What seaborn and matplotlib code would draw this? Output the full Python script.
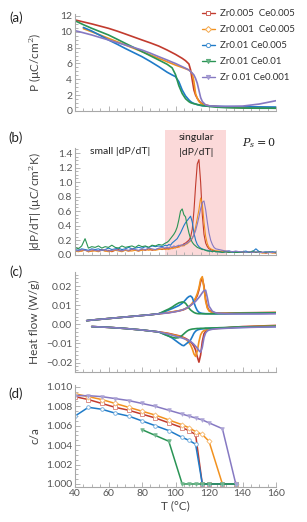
import numpy as np
import matplotlib
matplotlib.use("Agg")
import matplotlib.pyplot as plt
import seaborn as sns
from matplotlib.lines import Line2D
from matplotlib.patches import Rectangle
from matplotlib.ticker import MultipleLocator, AutoMinorLocator
from matplotlib.colors import to_rgb

sns.set_style("ticks")
plt.rcParams['font.family'] = ['Lato', 'DejaVu Sans']
plt.rcParams['mathtext.fontset'] = 'dejavuserif'

nan = np.nan
labels = ["Zr0.005  Ce0.005", "Zr0.001  Ce0.005", "Zr0.01 Ce0.005", "Zr0.01 Ce0.01", "Zr 0.01 Ce0.001"]
colors = ["#C23B2E", "#F2921F", "#1F7BC8", "#2A9455", "#8679C2"]
markers = ["s", "D", "o", "v", "v"]

# ---------------- panel (a): polarization ----------------
TA = [40, 45, 50, 55, 60, 65, 70, 75, 80, 85, 90, 95, 98, 100, 102, 104, 106, 108, 109, 110,
      111, 112, 113, 114, 115, 116, 118, 120, 125, 130, 140, 150, 160]
P_red = [11.5, 11.25, 11.0, 10.72, 10.44, 10.1, 9.73, 9.35, 8.97, 8.6, 8.2, 7.7, 7.37, 7.15, 6.9, 6.65, 6.35, 5.94, 5.2, 3.9,
         2.65, 2.0, 1.6, 1.3, 1.05, 0.92, 0.76, 0.66, 0.55, 0.48, 0.42, 0.38, 0.35]
P_orange = [nan, 10.4, 10.0, 9.6, 9.18, 8.76, 8.34, 7.92, 7.5, 7.08, 6.65, 6.22, 5.97, 5.8, 5.65, 5.5, 5.34, 5.18, 5.0, 4.76,
            3.7, 2.2, 1.6, 1.2, 1.0, 0.86, 0.72, 0.64, 0.55, 0.5, 0.45, 0.42, 0.4]
P_blue = [nan, 10.55, 10.1, 9.55, 8.97, 8.45, 7.9, 7.38, 6.86, 6.25, 5.6, 4.9, 4.55, 4.34, 3.7, 2.65, 1.9, 1.4, 1.2, 1.05,
          0.95, 0.88, 0.8, 0.75, 0.7, 0.65, 0.62, 0.6, 0.58, 0.56, 0.54, 0.52, 0.5]
P_green = [11.4, 10.9, 10.44, 10.02, 9.6, 9.08, 8.55, 8.03, 7.5, 6.97, 6.44, 5.9, 5.45, 4.6, 3.2, 2.2, 1.55, 1.18, 1.05, 0.98,
           0.92, 0.88, 0.82, 0.78, 0.74, 0.7, 0.64, 0.58, 0.48, 0.42, 0.37, 0.35, 0.35]
P_purple = [10.15, 9.88, 9.6, 9.28, 8.97, 8.65, 8.34, 8.02, 7.7, 7.3, 6.86, 6.44, 6.17, 6.0, 5.8, 5.6, 5.4, 5.18, 4.98, 4.78,
            4.55, 4.1, 3.5, 2.6, 1.7, 1.2, 0.76, 0.66, 0.6, 0.58, 0.62, 0.88, 1.3]

# ---------------- panel (b): |dP/dT| ----------------
TB = list(range(40, 95, 2)) + list(range(95, 125)) + list(range(126, 161, 2))
D_red = [0.04, 0.06, 0.05, 0.07, 0.04, 0.05, 0.06, 0.05, 0.07, 0.05, 0.06, 0.04, 0.06, 0.07, 0.05, 0.06, 0.05, 0.07, 0.06, 0.05,
         0.07, 0.06, 0.08, 0.06, 0.07, 0.08, 0.07, 0.09,
         0.08, 0.09, 0.08, 0.10, 0.09, 0.11, 0.10, 0.12, 0.13, 0.12, 0.15, 0.16, 0.18, 0.20, 0.24, 0.35, 0.60, 0.95, 1.25, 1.31,
         1.00, 0.55, 0.28, 0.16, 0.11, 0.08, 0.07, 0.06, 0.05, 0.05,
         0.04, 0.05, 0.04, 0.03, 0.04, 0.03, 0.04, 0.03, 0.03, 0.04, 0.03, 0.03, 0.04, 0.03, 0.02, 0.03, 0.03, 0.02]
D_orange = [0.05, 0.04, 0.05, 0.06, 0.04, 0.05, 0.05, 0.04, 0.06, 0.05, 0.04, 0.05, 0.06, 0.05, 0.04, 0.06, 0.05, 0.05, 0.06, 0.05,
            0.06, 0.07, 0.06, 0.07, 0.06, 0.07, 0.08, 0.07,
            0.08, 0.07, 0.09, 0.08, 0.10, 0.09, 0.11, 0.10, 0.12, 0.13, 0.12, 0.14, 0.15, 0.17, 0.19, 0.22, 0.28, 0.38, 0.50, 0.62,
            0.78, 0.70, 0.45, 0.25, 0.15, 0.10, 0.08, 0.07, 0.06, 0.05,
            0.05, 0.04, 0.05, 0.04, 0.03, 0.04, 0.03, 0.04, 0.03, 0.03, 0.04, 0.03, 0.03, 0.02, 0.03, 0.03, 0.02, 0.03]
D_blue = [0.07, 0.06, 0.08, 0.07, 0.06, 0.08, 0.07, 0.08, 0.06, 0.07, 0.09, 0.07, 0.08, 0.09, 0.07, 0.08, 0.10, 0.08, 0.09, 0.10,
          0.09, 0.11, 0.10, 0.12, 0.11, 0.12, 0.11, 0.13,
          0.12, 0.14, 0.13, 0.16, 0.18, 0.20, 0.22, 0.26, 0.30, 0.35, 0.40, 0.44, 0.47, 0.50, 0.53, 0.45, 0.30, 0.20, 0.14, 0.11,
          0.09, 0.08, 0.07, 0.06, 0.06, 0.05, 0.05, 0.04, 0.05, 0.04,
          0.04, 0.03, 0.04, 0.05, 0.03, 0.04, 0.03, 0.04, 0.05, 0.03, 0.04, 0.08, 0.04, 0.03, 0.04, 0.03, 0.04, 0.03]
D_green = [0.10, 0.08, 0.12, 0.22, 0.09, 0.11, 0.10, 0.12, 0.09, 0.11, 0.10, 0.13, 0.10, 0.09, 0.12, 0.10, 0.11, 0.12, 0.10, 0.13,
           0.11, 0.12, 0.10, 0.13, 0.12, 0.14, 0.13, 0.16,
           0.17, 0.19, 0.22, 0.25, 0.28, 0.32, 0.38, 0.48, 0.60, 0.63, 0.55, 0.52, 0.40, 0.30, 0.22, 0.17, 0.14, 0.12, 0.10, 0.09,
           0.08, 0.07, 0.07, 0.06, 0.05, 0.05, 0.05, 0.04, 0.05, 0.04,
           0.04, 0.03, 0.04, 0.03, 0.04, 0.03, 0.03, 0.04, 0.03, 0.03, 0.05, 0.03, 0.04, 0.03, 0.03, 0.04, 0.03, 0.03]
D_purple = [0.06, 0.05, 0.07, 0.06, 0.05, 0.07, 0.06, 0.05, 0.06, 0.07, 0.05, 0.06, 0.07, 0.06, 0.05, 0.07, 0.06, 0.08, 0.07, 0.06,
            0.08, 0.07, 0.09, 0.08, 0.07, 0.09, 0.10, 0.09,
            0.10, 0.09, 0.11, 0.10, 0.12, 0.11, 0.12, 0.13, 0.12, 0.14, 0.13, 0.15, 0.16, 0.18, 0.20, 0.23, 0.27, 0.33, 0.42, 0.52,
            0.63, 0.72, 0.74, 0.62, 0.45, 0.30, 0.20, 0.14, 0.10, 0.08,
            0.07, 0.06, 0.05, 0.05, 0.04, 0.05, 0.04, 0.04, 0.03, 0.04, 0.03, 0.04, 0.03, 0.03, 0.04, 0.03, 0.03, 0.04]
singular_T = [94, 130]
singular_top = 1.72

# ---------------- panel (c): heat flow ----------------
TC = [47, 50, 55, 60, 65, 70, 75, 80, 85, 90, 94, 96, 98, 100, 102, 104, 105, 106, 107, 108, 109, 110, 111, 112, 113,
      114, 115, 116, 117, 118, 119, 120, 122, 124, 126, 130, 135, 140, 150, 160]
up_base = [0.0019, 0.0022, 0.0026, 0.0030, 0.0034, 0.0038, 0.0042, 0.0046, 0.0050, 0.0055]
dn_base = [nan, -0.0012, -0.0014, -0.0016, -0.0019, -0.0022, -0.0026, -0.0030, -0.0035, -0.0040]
H_up_red = up_base + [0.0059, 0.0061, 0.0064, 0.0067, 0.0070, 0.0074, 0.0077, 0.0081, 0.0086, 0.0092, 0.0099, 0.0108, 0.0119,
                      0.0134, 0.0150, 0.0180, 0.0222, 0.0240, 0.0200, 0.0130, 0.0090, 0.0073, 0.0063, 0.0059, 0.0058, 0.0058,
                      0.0059, 0.0060, 0.0061, 0.0062]
H_up_orange = up_base + [0.0060, 0.0062, 0.0065, 0.0068, 0.0071, 0.0075, 0.0078, 0.0082, 0.0087, 0.0093, 0.0100, 0.0110, 0.0122,
                         0.0138, 0.0160, 0.0190, 0.0235, 0.0249, 0.0190, 0.0120, 0.0085, 0.0070, 0.0061, 0.0058, 0.0057, 0.0057,
                         0.0058, 0.0059, 0.0060, 0.0061]
H_up_blue = up_base + [0.0068, 0.0075, 0.0082, 0.0090, 0.0098, 0.0110, 0.0118, 0.0128, 0.0138, 0.0145, 0.0148, 0.0140, 0.0115,
                       0.0090, 0.0072, 0.0063, 0.0059, 0.0057, 0.0056, 0.0055, 0.0055, 0.0055, 0.0055, 0.0055, 0.0055, 0.0055,
                       0.0056, 0.0056, 0.0057, 0.0058]
H_up_green = up_base + [0.0072, 0.0080, 0.0090, 0.0102, 0.0112, 0.0117, 0.0115, 0.0110, 0.0098, 0.0085, 0.0075, 0.0068, 0.0062,
                        0.0058, 0.0056, 0.0055, 0.0055, 0.0055, 0.0055, 0.0055, 0.0055, 0.0055, 0.0055, 0.0055, 0.0056, 0.0056,
                        0.0057, 0.0058, 0.0059, 0.0060]
H_up_purple = up_base + [0.0058, 0.0060, 0.0063, 0.0066, 0.0070, 0.0075, 0.0078, 0.0082, 0.0087, 0.0093, 0.0099, 0.0105, 0.0112,
                         0.0120, 0.0130, 0.0140, 0.0152, 0.0165, 0.0176, 0.0178, 0.0140, 0.0095, 0.0068, 0.0060, 0.0057, 0.0055,
                         0.0054, 0.0054, 0.0054, 0.0055]
H_dn_red = dn_base + [-0.0045, -0.0048, -0.0052, -0.0056, -0.0060, -0.0066, -0.0070, -0.0074, -0.0079, -0.0085, -0.0092, -0.0102,
                      -0.0115, -0.0135, -0.0170, -0.0198, -0.0160, -0.0090, -0.0050, -0.0036, -0.0030, -0.0027, -0.0024, -0.0022,
                      -0.0020, -0.0018, -0.0015, -0.0012, -0.0009, -0.0006]
H_dn_orange = dn_base + [-0.0046, -0.0050, -0.0054, -0.0058, -0.0062, -0.0068, -0.0072, -0.0078, -0.0085, -0.0095, -0.0108, -0.0128,
                         -0.0155, -0.0168, -0.0140, -0.0090, -0.0055, -0.0040, -0.0033, -0.0030, -0.0028, -0.0026, -0.0024,
                         -0.0022, -0.0021, -0.0019, -0.0016, -0.0014, -0.0011, -0.0008]
H_dn_blue = dn_base + [-0.0055, -0.0062, -0.0072, -0.0085, -0.0098, -0.0110, -0.0112, -0.0105, -0.0098, -0.0092, -0.0082, -0.0065,
                       -0.0047, -0.0036, -0.0030, -0.0027, -0.0025, -0.0024, -0.0023, -0.0022, -0.0022, -0.0021, -0.0021, -0.0020,
                       -0.0020, -0.0019, -0.0017, -0.0016, -0.0014, -0.0012]
H_dn_green = dn_base + [-0.0055, -0.0062, -0.0068, -0.0072, -0.0070, -0.0058, -0.0050, -0.0042, -0.0035, -0.0030, -0.0027, -0.0025,
                        -0.0024, -0.0023, -0.0022, -0.0022, -0.0021, -0.0021, -0.0021, -0.0020, -0.0020, -0.0020, -0.0019,
                        -0.0019, -0.0018, -0.0017, -0.0015, -0.0014, -0.0012, -0.0010]
H_dn_purple = dn_base + [-0.0048, -0.0052, -0.0057, -0.0062, -0.0067, -0.0072, -0.0075, -0.0078, -0.0081, -0.0085, -0.0090, -0.0097,
                         -0.0105, -0.0115, -0.0125, -0.0138, -0.0146, -0.0120, -0.0070, -0.0045, -0.0035, -0.0030, -0.0026,
                         -0.0024, -0.0023, -0.0021, -0.0019, -0.0017, -0.0015, -0.0013]

# ---------------- panel (d): c/a ----------------
TD = [40, 48, 56, 64, 72, 80, 88, 96, 104, 108, 112, 116, 120, 128, 136]
CA_red = [1.0090, 1.0087, 1.0083, 1.0079, 1.0076, 1.0072, 1.0068, 1.0063, 1.0058, 1.0055, 1.0051, 1.0000, 1.0000, 1.0000, 1.0000]
CA_orange = [1.0093, 1.0090, 1.0087, 1.0083, 1.0079, 1.0075, 1.0071, 1.0066, 1.0061, 1.0058, 1.0054, 1.0051, 1.0044, 1.0000, 1.0000]
CA_blue = [1.0070, 1.0079, 1.0077, 1.0073, 1.0070, 1.0065, 1.0060, 1.0055, 1.0048, 1.0045, 1.0041, 1.0000, 1.0000, 1.0000, 1.0000]
CA_green = [nan, nan, nan, nan, nan, 1.0056, 1.0050, 1.0044, 1.0000, 1.0000, 1.0000, 1.0000, 1.0000, 1.0000, 1.0000]
CA_purple = [1.0091, 1.0091, 1.0090, 1.0088, 1.0086, 1.0083, 1.0080, 1.0076, 1.0072, 1.0070, 1.0068, 1.0066, 1.0063, 1.0057, 1.0000]

x_ticks = [40, 60, 80, 100, 120, 140, 160]

def lighten(c, f=0.4):
    r, g, b = to_rgb(c)
    return (r + (1 - r) * f, g + (1 - g) * f, b + (1 - b) * f)

# ---------------- figure ----------------
W, H = 307, 522
fig = plt.figure(figsize=(W / 100, H / 100), dpi=100)

def box(top_px, bot_px, left_px=75, right_px=276):
    return [left_px / W, 1 - bot_px / H, (right_px - left_px) / W, (bot_px - top_px) / H]

axA = fig.add_axes(box(13.6, 111))
axB = fig.add_axes(box(148, 255))
axC = fig.add_axes(box(271.7, 371.7))
axD = fig.add_axes(box(385, 486.7))

spine_col = "#a8a8a8"
tick_col = "#555555"
for ax in (axA, axB, axC, axD):
    sns.despine(ax=ax)
    for s in ("left", "bottom"):
        ax.spines[s].set_color(spine_col)
        ax.spines[s].set_linewidth(0.8)
    ax.set_xlim(40, 160)
    ax.xaxis.set_major_locator(MultipleLocator(20))
    ax.xaxis.set_minor_locator(MultipleLocator(5))
    ax.tick_params(which="both", direction="in", color=spine_col, labelcolor=tick_col, labelsize=7.5, pad=2, width=0.6)
    ax.tick_params(which="major", length=3.5)
    ax.tick_params(which="minor", length=2)
    ax.yaxis.label.set_color("#444444")
    ax.xaxis.label.set_color("#444444")

def line(ax, x, y, c, lw):
    sns.lineplot(x=x, y=y, ax=ax, color=c, lw=lw, estimator=None, sort=False)

# (a)
for y, c in zip([P_red, P_orange, P_blue, P_green, P_purple], colors):
    line(axA, TA, y, c, 1.2)
axA.set_ylim(0, 12.3)
axA.yaxis.set_major_locator(MultipleLocator(2))
axA.yaxis.set_minor_locator(AutoMinorLocator(4))
axA.set_xticklabels([])
axA.set_ylabel("P (µC/cm$^2$)", fontsize=8.5, va="center")

handles = [Line2D([], [], color=c, lw=1.0, marker=m, markersize=3.0,
                  markerfacecolor=("white" if i < 3 else lighten(c, 0.3)),
                  markeredgecolor=lighten(c, 0.2), markeredgewidth=0.7)
           for i, (c, m) in enumerate(zip(colors, markers))]
fig.legend(handles, labels, loc="upper left", bbox_to_anchor=(202 / W, 1 - 9 / H), frameon=False,
           fontsize=7, handlelength=1.3, handletextpad=0.5, labelspacing=0.72, borderpad=0, borderaxespad=0,
           labelcolor="#333333")

# (b)
axB.add_patch(Rectangle((singular_T[0], 0), singular_T[1] - singular_T[0], singular_top,
                        facecolor="#fbd9d9", edgecolor="none", clip_on=False, zorder=0))
for y, c in zip([D_red, D_orange, D_blue, D_green, D_purple], colors):
    line(axB, TB, y, c, 0.8)
axB.set_ylim(-0.005, 1.47)
axB.yaxis.set_major_locator(MultipleLocator(0.2))
axB.yaxis.set_minor_locator(AutoMinorLocator(4))
axB.yaxis.set_major_formatter(matplotlib.ticker.FormatStrFormatter("%.1f"))
axB.set_xticklabels([])
axB.set_ylabel("|dP/dT| (µC/cm$^2$K)", fontsize=8.5, va="center")
fig.text(120 / W, 1 - 152 / H, "small |dP/dT|", fontsize=7.5, ha="center", va="center", color="#222222")
fig.text(196 / W, 1 - 138 / H, "singular", fontsize=7.5, ha="center", va="center", color="#222222")
fig.text(196 / W, 1 - 152.5 / H, "|dP/dT|", fontsize=7.5, ha="center", va="center", color="#222222")
fig.text(259 / W, 1 - 143 / H, "$P_s = 0$", fontsize=8, ha="center", va="center", color="#222222")

# (c)
for yu, yd, c in zip([H_up_red, H_up_orange, H_up_blue, H_up_green, H_up_purple],
                     [H_dn_red, H_dn_orange, H_dn_blue, H_dn_green, H_dn_purple], colors):
    line(axC, TC, yu, c, 1.2)
    line(axC, TC, yd, c, 1.2)
axC.set_ylim(-0.0248, 0.0275)
axC.yaxis.set_major_locator(MultipleLocator(0.01))
axC.yaxis.set_minor_locator(AutoMinorLocator(5))
axC.yaxis.set_major_formatter(matplotlib.ticker.FuncFormatter(lambda v, p: f"{v:.2f}".replace("-", "\u2212")))
axC.set_xticklabels([])
axC.set_ylabel("Heat flow (W/g)", fontsize=8.5, va="center")

# (d)
for i, (y, c, m) in enumerate(zip([CA_red, CA_orange, CA_blue, CA_green, CA_purple], colors, markers)):
    sns.lineplot(x=TD, y=y, ax=axD, color=c, lw=1.1, estimator=None, sort=False, marker=m, markersize=2.6,
                 markerfacecolor=("white" if i < 3 else lighten(c, 0.3)), markeredgecolor=lighten(c, 0.35),
                 markeredgewidth=0.6)
axD.set_ylim(0.99972, 1.0102)
axD.yaxis.set_major_locator(MultipleLocator(0.002))
axD.yaxis.set_minor_locator(AutoMinorLocator(4))
axD.yaxis.set_major_formatter(matplotlib.ticker.FormatStrFormatter("%.3f"))
axD.set_xticks(x_ticks)
axD.set_ylabel("c/a", fontsize=8.5, va="center")
axD.set_xlabel("T (°C)", fontsize=8.5, labelpad=1)

for ax in (axA, axB, axC, axD):
    ax.yaxis.set_label_coords(-0.20, 0.5)

for txt, y in zip(["(a)", "(b)", "(c)", "(d)"], [17.5, 138, 272, 394]):
    fig.text(16 / W, 1 - y / H, txt, fontsize=9.5, ha="center", va="center", color="#222222")

fig.savefig("out.png", dpi=100)
